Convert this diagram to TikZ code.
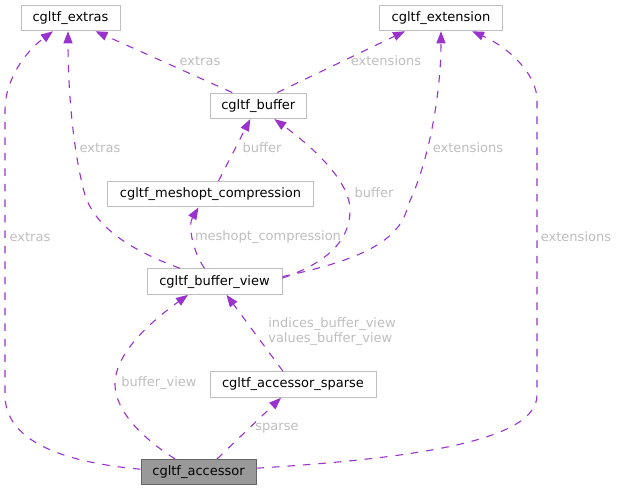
\documentclass[tikz,border=0pt]{standalone}
\usepackage{fontspec}
\setmainfont{DejaVu Sans}
\usetikzlibrary{arrows.meta}
\definecolor{edgecol}{HTML}{9A32CD}
\definecolor{boxline}{HTML}{BFBFBF}
\definecolor{lblcol}{HTML}{BEBEBE}
\definecolor{accfill}{HTML}{999999}
\definecolor{accline}{HTML}{666666}
\tikzset{
  box/.style={draw=boxline, fill=white, line width=1pt, minimum height=25.5pt, inner sep=0pt, font=\fontsize{13pt}{15pt}\selectfont, text=black},
  mainbox/.style={box, draw=accline, fill=accfill},
  rel/.style={draw=edgecol, line width=1.1pt, dash pattern=on 7.5pt off 8pt, -{Triangle[length=12pt,width=9pt]}},
  lbl/.style={text=lblcol, font=\fontsize{13pt}{15pt}\selectfont, inner sep=0pt, align=left}
}
\begin{document}
\begin{tikzpicture}[x=1pt,y=-1pt]
\useasboundingbox (0,0) rectangle (619,491);
% nodes
\node[box, minimum width=99pt] (extras) at (70.5,18) {cgltf\_extras};
\node[box, minimum width=123.5pt] (ext) at (441,18) {cgltf\_extension};
\node[box, minimum width=96.5pt] (buf) at (258.3,105.8) {cgltf\_buffer};
\node[box, minimum width=206pt] (mc) at (210.5,194.2) {cgltf\_meshopt\_compression};
\node[box, minimum width=135pt] (bv) at (214.5,281.6) {cgltf\_buffer\_view};
\node[box, minimum width=166pt] (sp) at (293,384.5) {cgltf\_accessor\_sparse};
\node[mainbox, minimum width=115pt] (acc) at (198.5,472.2) {cgltf\_accessor};
% edges
\draw[rel] ([xshift=-26pt]buf.north) -- ([xshift=25pt]extras.south);
\draw[rel] ([xshift=19pt]buf.north) -- ([xshift=-36pt]ext.south);
\draw[rel] ([xshift=8pt]mc.north) -- ([xshift=-8pt]buf.south);
\draw[rel] ([yshift=3.5pt]bv.east) .. controls (320,265) and (350,245) .. (350,210)
   .. controls (350,180) and (310,145) .. ([xshift=16pt]buf.south);
\draw[rel] ([xshift=-10pt]bv.north) .. controls (192,250) and (188,225) .. ([xshift=-12pt]mc.south);
\draw[rel] ([xshift=-34.5pt]bv.north) .. controls (125,248) and (95,225) .. (85,195)
   .. controls (75,160) and (68,100) .. ([xshift=-2.5pt]extras.south);
\draw[rel] ([yshift=5pt]bv.east) .. controls (350,262) and (400,245) .. (408,205)
   .. controls (430,160) and (441,90) .. (ext.south);
\draw[rel] ([xshift=-10pt]sp.north) -- ([xshift=12pt]bv.south);
\draw[rel] ([xshift=-23.5pt]acc.north) .. controls (130,430) and (110,400) .. (116,375)
   .. controls (122,345) and (160,315) .. ([xshift=-26.5pt]bv.south);
\draw[rel] ([xshift=18.5pt]acc.north) -- ([xshift=-12pt]sp.south);
\draw[rel] ([yshift=3pt]acc.west) .. controls (60,462) and (5,440) .. (5,395) -- (5,110)
   .. controls (5,80) and (25,52) .. ([xshift=-17.5pt]extras.south);
\draw[rel] ([yshift=4pt]acc.east) .. controls (420,458) and (537,440) .. (537,395) -- (537,100)
   .. controls (537,75) and (510,48) .. ([xshift=31pt]ext.south);
% labels
\node[lbl] (l1) at (200,61) {extras};
\node[lbl] (l2) at (386,61) {extensions};
\node[lbl] (l3) at (262,148) {buffer};
\node[lbl] (l4) at (100,148) {extras};
\node[lbl] (l5) at (468,148) {extensions};
\node[lbl] (l6) at (374,193) {buffer};
\node[lbl] (l7) at (268,237) {meshopt\_compression};
\node[lbl] (l8) at (30,237) {extras};
\node[lbl] (l9) at (576,237) {extensions};
\node[lbl] (l10) at (332,332) {indices\_buffer\_view\\values\_buffer\_view};
\node[lbl] (l11) at (159,383) {buffer\_view};
\node[lbl] (l12) at (277,428) {sparse};
\end{tikzpicture}
\end{document}
